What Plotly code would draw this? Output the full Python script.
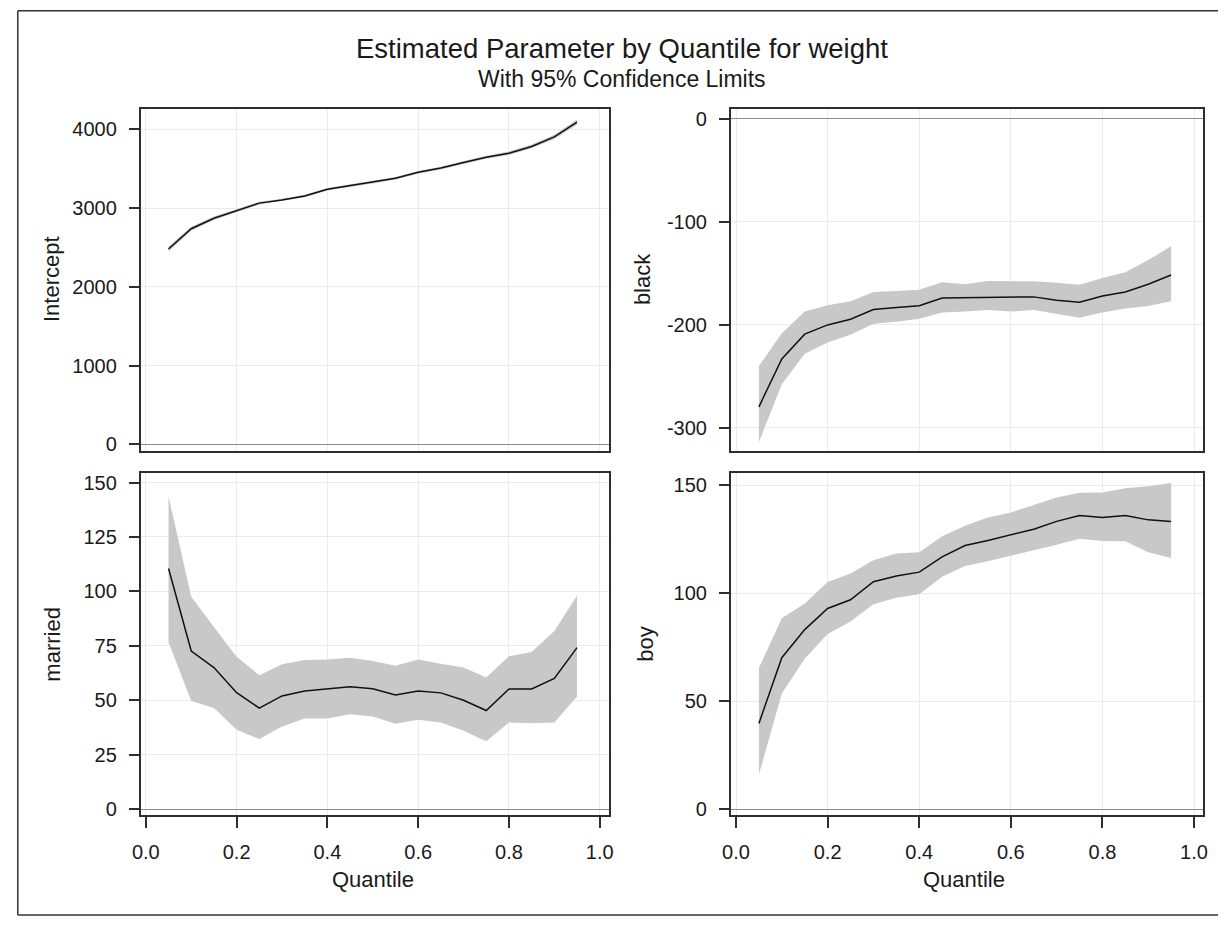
import plotly.graph_objects as go

# ---------------- data ----------------
quantile = [0.05, 0.10, 0.15, 0.20, 0.25, 0.30, 0.35, 0.40, 0.45, 0.50,
            0.55, 0.60, 0.65, 0.70, 0.75, 0.80, 0.85, 0.90, 0.95]

intercept_est = [2480, 2738, 2871, 2967, 3063, 3104, 3154, 3238, 3288, 3329,
                 3379, 3454, 3508, 3579, 3646, 3696, 3783, 3904, 4092]
intercept_lo = [2448, 2712, 2850, 2948, 3046, 3088, 3138, 3222, 3272, 3313,
                3363, 3437, 3490, 3560, 3626, 3675, 3760, 3876, 4058]
intercept_hi = [2512, 2764, 2892, 2986, 3080, 3120, 3170, 3254, 3304, 3345,
                3395, 3471, 3526, 3598, 3666, 3717, 3806, 3932, 4126]

black_est = [-279.5, -233, -209, -200, -194.5, -185, -183, -181.4, -174, -173.7,
             -172.8, -172.8, -172.8, -176, -178, -172, -168, -160.6, -151.6]
black_lo = [-313.8, -257.7, -228, -217, -209.6, -199, -197, -194, -188, -187,
            -185.6, -187, -185.6, -189, -193, -188, -184, -181.7, -177]
black_hi = [-240, -208, -187, -181, -177, -168, -167, -166, -158.7, -160.6,
            -157.4, -157.4, -157.7, -159, -161, -154.5, -149, -137, -123.7]

married_est = [110.5, 72.6, 65, 53.5, 46.4, 52, 54.3, 55.2, 56.2, 55.3,
               52.4, 54.3, 53.4, 50, 45.3, 55.2, 55.2, 60, 74.2]
married_lo = [76.7, 49.7, 46.4, 36.5, 32.2, 38, 41.6, 41.6, 43.6, 42.5,
              39.2, 41, 39.8, 36, 31.2, 39.8, 39.5, 39.8, 51.7]
married_hi = [143.6, 97.6, 83.6, 70, 61.5, 66.6, 68.5, 68.7, 69.5, 68,
              65.8, 68.7, 66.8, 65, 60.5, 70.2, 72.2, 81.8, 98]

boy_est = [39.7, 70.1, 83.1, 92.9, 96.9, 105.3, 107.9, 109.7, 116.8, 122,
           124.4, 127, 129.6, 133.2, 135.9, 135, 135.9, 133.9, 133.2]
boy_lo = [16, 53.5, 69.6, 81.1, 86.9, 94.9, 97.9, 99.5, 107.6, 112.5,
          114.8, 117.4, 119.8, 122.4, 125.2, 124.1, 124, 118.9, 116.3]
boy_hi = [65.3, 88.4, 95.2, 105.1, 109.1, 115.2, 118.3, 118.9, 126.3, 131.2,
          135, 137.3, 140.8, 144.2, 146.5, 146.6, 148.5, 149.5, 151]

panel_names = ["Intercept", "black", "married", "boy"]
x_ticks = [0.0, 0.2, 0.4, 0.6, 0.8, 1.0]
x_tick_text = ["0.0", "0.2", "0.4", "0.6", "0.8", "1.0"]
y_ticks = [[0, 1000, 2000, 3000, 4000],
           [-300, -200, -100, 0],
           [0, 25, 50, 75, 100, 125, 150],
           [0, 50, 100, 150]]
y_tick_text = [["0", "1000", "2000", "3000", "4000"],
               ["-300", "-200", "-100", "0"],
               ["0", "25", "50", "75", "100", "125", "150"],
               ["0", "50", "100", "150"]]
y_ranges = [[-79, 4264], [-322, 10], [-2.6, 154.2], [-2.6, 155.4]]
x_title = "Quantile"
title_text = "Estimated Parameter by Quantile for weight"
subtitle_text = "With 95% Confidence Limits"

series = [(intercept_est, intercept_lo, intercept_hi),
          (black_est, black_lo, black_hi),
          (married_est, married_lo, married_hi),
          (boy_est, boy_lo, boy_hi)]

# ---------------- layout geometry ----------------
# The page body keeps its default 8px margin, so the figure is drawn 8px in.
OFF = 8
W, H = 1215, 913
FONT = "Liberation Sans, Arial, Helvetica, sans-serif"
TXT = "#1a1a1a"
FRAME = "#2e2e2e"
BAND = "#c8c8c8"
GRID = "#ebebeb"
TICK_SIZE = 20
LABEL_SIZE = 22


def px(x):  # page x -> paper
    return (x - OFF) / W


def py(y):  # page y -> paper
    return 1 - (y - OFF) / H


x_domains = [[px(133.3), px(606.7)], [px(730.3), px(1208)]]
y_domains = [[py(452), py(107.3)], [py(819), py(475)]]
x_range = [-0.011, 1.02]

fig = go.Figure()

for i, (est, lo, hi) in enumerate(series):
    ax = "" if i == 0 else str(i + 1)
    xref, yref = "x" + ax, "y" + ax
    fig.add_trace(go.Scatter(
        x=quantile + quantile[::-1], y=hi + lo[::-1],
        fill="toself", fillcolor=BAND, line=dict(width=0),
        mode="lines", hoverinfo="skip", showlegend=False,
        xaxis=xref, yaxis=yref))
    fig.add_trace(go.Scatter(
        x=quantile, y=est, mode="lines",
        line=dict(color="#111111", width=1.5),
        showlegend=False, xaxis=xref, yaxis=yref))

layout_axes = {}
for i in range(4):
    row, col = divmod(i, 2)
    ax = "" if i == 0 else str(i + 1)
    bottom = row == 1
    layout_axes["xaxis" + ax] = dict(
        domain=x_domains[col], range=x_range, anchor="y" + ax,
        tickvals=x_ticks, ticktext=x_tick_text,
        showticklabels=bottom, ticks="outside" if bottom else "",
        ticklen=11, tickcolor=FRAME, tickwidth=1.5, ticklabelstandoff=7,
        showgrid=True, gridcolor=GRID, gridwidth=1,
        zeroline=False, showline=True, linecolor=FRAME, linewidth=2,
        mirror=True, tickfont=dict(family=FONT, size=TICK_SIZE, color=TXT),
    )
    layout_axes["yaxis" + ax] = dict(
        domain=y_domains[row], range=y_ranges[i], anchor="x" + ax,
        tickvals=y_ticks[i], ticktext=y_tick_text[i],
        ticks="outside", ticklen=10,
        tickcolor=FRAME, tickwidth=1.5, ticklabelstandoff=8,
        showgrid=True, gridcolor=GRID, gridwidth=1,
        zeroline=True, zerolinecolor="#8c8c8c", zerolinewidth=1,
        showline=True, linecolor=FRAME, linewidth=2, mirror=True,
        tickfont=dict(family=FONT, size=TICK_SIZE, color=TXT),
    )

annotations = []
ytitle_x = [43, 641, 44, 643]
ytitle_y = [279.5, 279.5, 647, 647]
for i, name in enumerate(panel_names):
    annotations.append(dict(
        text=name, x=px(ytitle_x[i]), y=py(ytitle_y[i]),
        xref="paper", yref="paper", showarrow=False, textangle=-90,
        font=dict(family=FONT, size=LABEL_SIZE, color=TXT),
        xanchor="center", yanchor="middle"))
for cx in [368, 966.5]:
    annotations.append(dict(
        text=x_title, x=px(cx), y=py(884), xref="paper", yref="paper",
        showarrow=False, font=dict(family=FONT, size=LABEL_SIZE, color=TXT),
        xanchor="center", yanchor="middle"))
annotations.append(dict(
    text=title_text, x=px(620), y=py(47), xref="paper", yref="paper",
    showarrow=False, font=dict(family=FONT, size=27.5, color=TXT),
    xanchor="center", yanchor="middle"))
annotations.append(dict(
    text=subtitle_text, x=px(620), y=py(78), xref="paper", yref="paper",
    showarrow=False, font=dict(family=FONT, size=23, color=TXT),
    xanchor="center", yanchor="middle"))

BORDER = dict(color="#333333", width=1.5)
shapes = [
    dict(type="line", xref="paper", yref="paper", x0=px(8.8), x1=1.0,
         y0=py(8.8), y1=py(8.8), line=BORDER),
    dict(type="line", xref="paper", yref="paper", x0=px(8.8), x1=1.0,
         y0=py(920), y1=py(920), line=BORDER),
    dict(type="line", xref="paper", yref="paper", x0=px(8.8), x1=px(8.8),
         y0=py(8.8), y1=py(920), line=BORDER),
]

fig.update_layout(
    width=W, height=H, margin=dict(l=0, r=0, t=0, b=0),
    paper_bgcolor="white", plot_bgcolor="white",
    annotations=annotations, shapes=shapes, showlegend=False,
    **layout_axes)

fig.write_html("out.html", config={"displayModeBar": False})
